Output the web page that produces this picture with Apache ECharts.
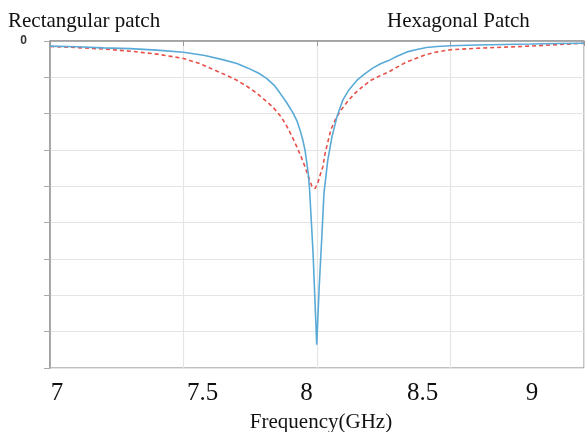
<!DOCTYPE html>
<html>
<head>
<meta charset="utf-8">
<script src="https://cdn.jsdelivr.net/npm/echarts@6/dist/echarts.min.js"></script>
<style>
  html, body { margin: 0; padding: 0; background: #fff; }
  #chart { width: 585px; height: 432px; }
</style>
</head>
<body>
<div id="chart"></div>
<script>
// Hexagonal patch (blue, solid)
var freqHex = [7.0, 7.1, 7.2, 7.3, 7.4, 7.5, 7.58, 7.65, 7.7, 7.74, 7.78, 7.81, 7.84, 7.86, 7.885,
  7.91, 7.925, 7.936, 7.946, 7.955, 7.962, 7.967, 7.972, 7.985, 7.999, 8.008, 8.018, 8.026, 8.04,
  8.056, 8.075, 8.097, 8.12, 8.15, 8.18, 8.21, 8.24, 8.273, 8.3, 8.337, 8.37, 8.41, 8.45, 8.5,
  8.6, 8.7, 8.8, 8.9, 9.0];
var s11Hex = [-0.7, -0.8, -0.95, -1.05, -1.25, -1.55, -2.0, -2.6, -3.1, -3.7, -4.4, -5.1, -6.1, -7.1, -8.4,
  -9.9, -11.0, -12.2, -13.5, -15.0, -16.8, -18.2, -20.3, -29.0, -41.8, -34.0, -27.0, -21.0, -16.5,
  -13.2, -10.4, -8.1, -6.7, -5.4, -4.5, -3.7, -3.1, -2.6, -2.1, -1.5, -1.2, -0.9, -0.75, -0.65,
  -0.55, -0.48, -0.42, -0.35, -0.3];

// Rectangular patch (red, dashed)
var freqRect = [7.0, 7.1, 7.2, 7.3, 7.4, 7.5, 7.56, 7.61, 7.66, 7.7, 7.74, 7.775, 7.81, 7.835, 7.865,
  7.888, 7.91, 7.925, 7.94, 7.955, 7.968, 7.981, 7.993, 8.004, 8.013, 8.022, 8.03, 8.04, 8.052,
  8.07, 8.09, 8.115, 8.142, 8.17, 8.202, 8.235, 8.266, 8.3, 8.33, 8.37, 8.405, 8.45, 8.5,
  8.6, 8.7, 8.8, 8.9, 9.0];
var s11Rect = [-0.75, -0.9, -1.1, -1.4, -1.8, -2.4, -3.1, -3.9, -4.7, -5.4, -6.3, -7.2, -8.3, -9.1, -10.4,
  -11.8, -13.4, -14.6, -15.9, -17.3, -18.7, -20.0, -20.3, -19.4, -18.3, -17.3, -15.5, -14.0, -12.2,
  -10.7, -9.5, -8.3, -7.2, -6.3, -5.4, -4.8, -4.3, -3.6, -3.0, -2.4, -1.9, -1.5, -1.2,
  -1.0, -0.85, -0.7, -0.5, -0.3];

var xTickLabels = ['7', '7.5', '8', '8.5', '9'];
// the tick labels in the original figure sit off the grid lines
var xTickLabelPos = [57, 202.5, 306.5, 422.5, 532];

function pairs(xs, ys) {
  return xs.map(function (x, i) { return [x, ys[i]]; });
}

var serif = '"Liberation Serif", "Times New Roman", serif';

var chart = echarts.init(document.getElementById('chart'), null, { renderer: 'canvas' });

var option = {
  animation: false,
  backgroundColor: '#fff',
  title: [{
    text: 'Rectangular patch',
    left: 8, top: 11, padding: 0,
    textStyle: { fontFamily: serif, fontSize: 21, fontWeight: 'normal', color: '#111' }
  }, {
    text: 'Hexagonal Patch',
    left: 387, top: 11, padding: 0,
    textStyle: { fontFamily: serif, fontSize: 21, fontWeight: 'normal', color: '#111' }
  }],
  grid: {
    left: 50, right: 1, top: 41, bottom: 64,
    outerBoundsMode: 'none',
    containLabel: false,
    show: true, borderColor: '#808080', borderWidth: 1
  },
  xAxis: {
    type: 'value',
    min: 7, max: 9, interval: 0.5,
    name: 'Frequency(GHz)',
    nameLocation: 'middle',
    nameGap: 44,
    nameTextStyle: { fontFamily: serif, fontSize: 21, color: '#111', padding: [0, 0, 0, 8] },
    axisLine: { lineStyle: { color: '#999', width: 1.5 } },
    axisTick: { show: true, length: 5, lineStyle: { color: '#999' } },
    axisLabel: { show: false },
    splitLine: { show: true, lineStyle: { color: '#e4e4e4', width: 1.2 } }
  },
  yAxis: {
    type: 'value',
    min: -45, max: 0, interval: 5,
    axisLine: { show: true, lineStyle: { color: '#999', width: 1.5 } },
    axisTick: { show: true, length: 6, lineStyle: { color: '#aaa' } },
    axisLabel: {
      margin: 23,
      fontFamily: '"Liberation Sans", Arial, sans-serif',
      fontSize: 12, fontWeight: 'bold', color: '#333',
      formatter: function (v) { return v === 0 ? '0' : ''; }
    },
    splitLine: { show: true, lineStyle: { color: '#e4e4e4', width: 1.2 } }
  },
  graphic: xTickLabels.map(function (t, i) {
    return {
      type: 'text',
      x: xTickLabelPos[i],
      y: 393,
      style: {
        text: t,
        align: 'center',
        verticalAlign: 'middle',
        font: '25px ' + serif,
        fill: '#111'
      }
    };
  }),
  series: [{
    name: 'Hexagonal Patch',
    type: 'line',
    data: pairs(freqHex, s11Hex),
    showSymbol: false,
    lineStyle: { color: '#5aaad8', width: 1.6 },
    z: 3
  }, {
    name: 'Rectangular patch',
    type: 'line',
    data: pairs(freqRect, s11Rect),
    showSymbol: false,
    lineStyle: { color: '#e8504a', width: 1.6, type: [4, 3] },
    z: 2
  }]
};

chart.setOption(option);
</script>
</body>
</html>
